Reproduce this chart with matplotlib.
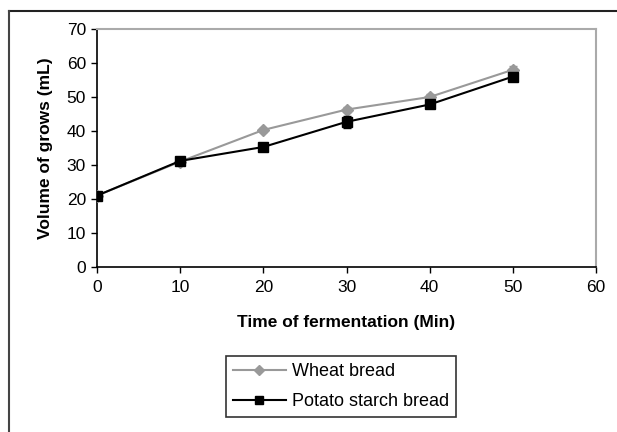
import matplotlib
matplotlib.use('Agg')
import matplotlib.pyplot as plt
from matplotlib.lines import Line2D

plt.rcParams['font.family'] = ['Liberation Sans', 'DejaVu Sans']

# data
time_min = [0, 10, 20, 30, 40, 50]
wheat = [21.0, 31.0, 40.3, 46.3, 50.0, 58.0]
wheat_err = [0.8, 0.8, 0.6, 0.8, 0.9, 1.0]
potato = [21.0, 31.2, 35.3, 42.7, 47.8, 56.0]
potato_err = [1.0, 1.0, 0.7, 1.8, 0.9, 0.9]

fig = plt.figure(figsize=(6.17, 4.32), dpi=100)
ax = fig.add_axes([97 / 617, 1 - 267 / 432, (596 - 97) / 617, (267 - 29) / 432])

ax.errorbar(time_min, wheat, yerr=wheat_err, color='#999999', marker='D',
            markersize=6, linewidth=1.5, capsize=3, elinewidth=1, zorder=3)
ax.errorbar(time_min, potato, yerr=potato_err, color='black', marker='s',
            markersize=7, linewidth=1.5, capsize=3, elinewidth=1, zorder=4)

ax.set_xlim(0, 60)
ax.set_ylim(0, 70)
ax.set_xticks(range(0, 61, 10))
ax.set_yticks(range(0, 71, 10))
ax.tick_params(labelsize=12.5, length=4, width=1, direction='out')
ax.tick_params(axis='x', pad=5)
ax.tick_params(axis='y', pad=4)
for side in ['top', 'right']:
    ax.spines[side].set_color('#aaaaaa')
    ax.spines[side].set_linewidth(1.5)
for side in ['left', 'bottom']:
    ax.spines[side].set_linewidth(1.2)

ax.set_xlabel('Time of fermentation (Min)', fontsize=12.5, fontweight='bold', labelpad=15)
ax.set_ylabel('Volume of grows (mL)', fontsize=12.5, fontweight='bold', labelpad=10)

handles = [Line2D([], [], color='#999999', marker='D', markersize=5, linewidth=1.5),
           Line2D([], [], color='black', marker='s', markersize=6, linewidth=1.5)]
labels = ['Wheat bread', 'Potato starch bread']
leg = fig.legend(handles, labels, loc='upper left',
                 bbox_to_anchor=(226 / 617, 1 - 356 / 432), fontsize=13,
                 fancybox=False, edgecolor='#333333', framealpha=1,
                 handlelength=2.9, handletextpad=0.35, borderpad=0.4,
                 labelspacing=0.7, borderaxespad=0)
leg.get_frame().set_linewidth(1.2)

# outer frame (top and left only)
fig.add_artist(Line2D([9 / 617, 1], [1 - 11 / 432, 1 - 11 / 432],
                      transform=fig.transFigure, color='#222222', linewidth=1.5))
fig.add_artist(Line2D([9 / 617, 9 / 617], [0, 1 - 11 / 432],
                      transform=fig.transFigure, color='#444444', linewidth=1.5))

fig.savefig('out.png', dpi=100)
